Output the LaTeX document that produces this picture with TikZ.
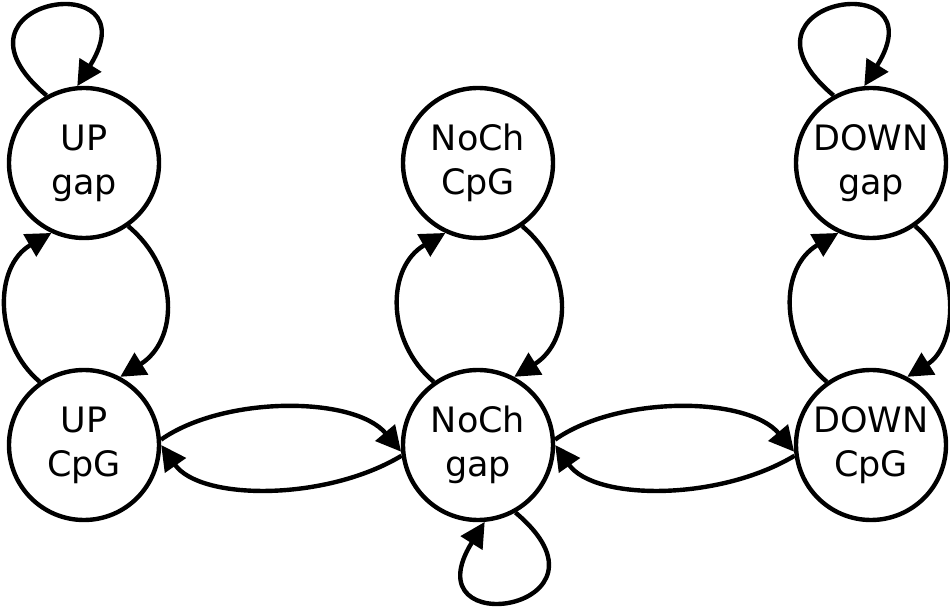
\documentclass[tikz,border=0pt]{standalone}
\usepackage{fontspec}
\setmainfont{DejaVu Sans}
\usetikzlibrary{arrows.meta}
\begin{document}
\begin{tikzpicture}[x=1pt,y=1pt,
  state/.style={circle,draw,line width=4.4pt,minimum size=150pt,inner sep=0pt,align=center,font=\fontsize{35}{44}\selectfont},
  edge/.style={line width=4.4pt,-{Triangle[length=25pt,width=25pt]}}]
\useasboundingbox (0,0) rectangle (950,608);
\node[state] (ug) at (84,445) {UP\\gap};
\node[state] (uc) at (84,163) {UP\\CpG};
\node[state] (nc) at (478,445) {NoCh\\CpG};
\node[state] (ng) at (478,163) {NoCh\\gap};
\node[state] (dg) at (871,445) {DOWN\\gap};
\node[state] (dc) at (871,163) {DOWN\\CpG};
% self loops
\draw[edge] (ug.119) .. controls +(140:150) and +(58:145) .. (ug.95);
\draw[edge] (dg.119) .. controls +(140:150) and +(58:145) .. (dg.95);
\draw[edge] (ng.-61) .. controls +(-40:150) and +(238:145) .. (ng.-85);
% vertical pairs
\draw[edge] (ug.-55) .. controls +(-40:68) and +(32:68) .. (uc.62);
\draw[edge] (uc.125) .. controls +(140:60) and +(210:67) .. (ug.-115);
\draw[edge] (nc.-55) .. controls +(-40:68) and +(32:68) .. (ng.62);
\draw[edge] (ng.125) .. controls +(140:62) and +(210:69) .. (nc.-115);
\draw[edge] (dg.-55) .. controls +(-40:60) and +(32:60) .. (dc.62);
\draw[edge] (dc.125) .. controls +(140:62) and +(210:69) .. (dg.-115);
% horizontal pairs
\draw[edge] (uc.4) .. controls +(35:77) and +(130:73) .. (ng.185);
\draw[edge] (ng.188) .. controls +(211:89) and +(-55:68) .. (uc.0);
\draw[edge] (ng.4) .. controls +(35:77) and +(130:73) .. (dc.185);
\draw[edge] (dc.188) .. controls +(211:89) and +(-55:68) .. (ng.0);
\end{tikzpicture}
\end{document}
